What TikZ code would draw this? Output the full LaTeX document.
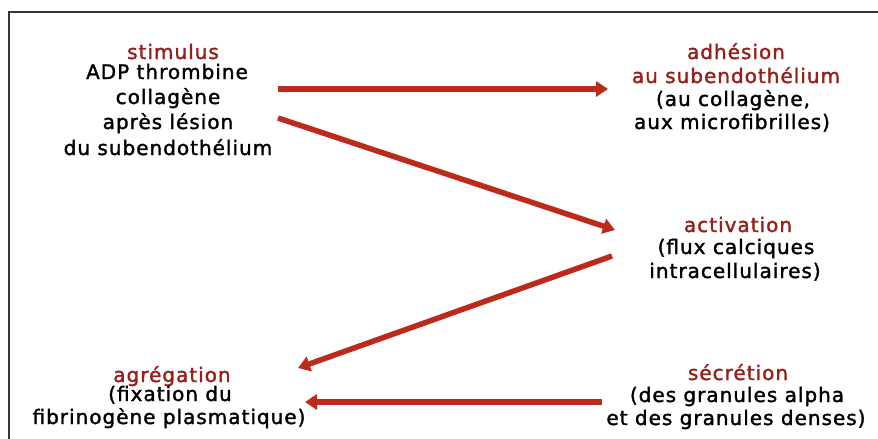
\documentclass[tikz,border=0pt]{standalone}
\usepackage{fontspec}
\setmainfont{DejaVu Sans}[LetterSpace=5,FakeBold=1.6]
\usetikzlibrary{arrows.meta}
\definecolor{arrred}{RGB}{188,42,28}
\definecolor{txtred}{RGB}{150,32,26}
\definecolor{frame}{RGB}{55,55,55}
\begin{document}
\begin{tikzpicture}[x=1pt,y=-1pt,
  lbl/.style={anchor=base,inner sep=0pt,font=\fontsize{20}{24}\selectfont,text=black},
  ttl/.style={lbl,text=txtred},
  arr/.style={draw=arrred,line width=5.5pt,-{Triangle[length=12pt,width=15pt]}}]
\useasboundingbox (0,0) rectangle (878,439);
\fill[white] (0,0) rectangle (878,439);
% frame
\draw[frame,line width=2pt] (9,439) -- (9,12) -- (878,12);
% stimulus block
\node[ttl] (s0) at (173,59) {stimulus};
\node[lbl] (s1) at (167,79) {ADP thrombine};
\node[lbl] (s2) at (168,104) {collagène};
\node[lbl] (s3) at (168,129) {après lésion};
\node[lbl] (s4) at (168,155) {du subendothélium};
% adhesion block
\node[ttl] (a0) at (736,59) {adhésion};
\node[ttl] (a1) at (736,83) {au subendothélium};
\node[lbl] (a2) at (733,106) {(au collagène,};
\node[lbl] (a3) at (732,129) {aux microfibrilles)};
% activation block
\node[ttl] (c0) at (738,232) {activation};
\node[lbl] (c1) at (736,254) {(flux calciques};
\node[lbl] (c2) at (735,278) {intracellulaires)};
% secretion block
\node[ttl] (e0) at (738,380) {sécrétion};
\node[lbl] (e1) at (737,402) {(des granules alpha};
\node[lbl] (e2) at (736,425) {et des granules denses)};
% aggregation block
\node[ttl] (g0) at (172,382) {agrégation};
\node[lbl] (g1) at (170,401) {(fixation du};
\node[lbl] (g2) at (169,424) {fibrinogène plasmatique)};
% arrow ends
\coordinate (A1s) at (278,89);  \coordinate (A1e) at (608,89);
\coordinate (A2s) at (278,118); \coordinate (A2e) at (615,230);
\coordinate (A3s) at (612,256); \coordinate (A3e) at (298,368);
\coordinate (A4s) at (602,402); \coordinate (A4e) at (305,402);
\draw[arr] (A1s) -- (A1e);
\draw[arr] (A2s) -- (A2e);
\draw[arr] (A3s) -- (A3e);
\draw[arr] (A4s) -- (A4e);
\end{tikzpicture}
\end{document}
